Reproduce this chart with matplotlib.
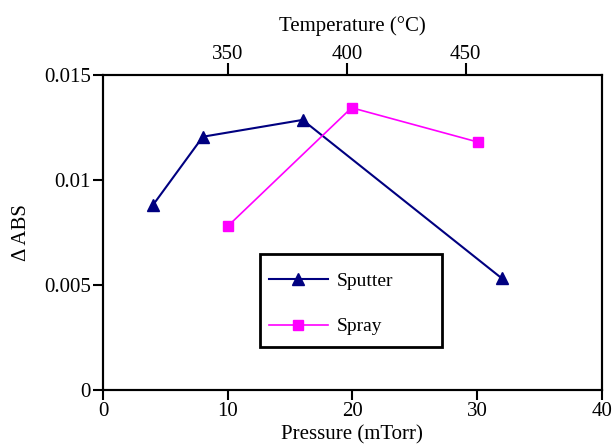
import matplotlib.pyplot as plt
from matplotlib.patches import Rectangle

plt.rcParams['font.family'] = ['Liberation Serif', 'DejaVu Serif']

# Sputter: plotted against pressure (bottom axis)
sputter_p = [4, 8, 16, 32]
sputter_abs = [0.0088, 0.01205, 0.01285, 0.0053]

# Spray: plotted against temperature (top axis)
spray_t = [350, 402, 455]
spray_abs = [0.0078, 0.01343, 0.0118]

yticks = [0, 0.005, 0.01, 0.015]
ytick_labels = ['0', '0.005', '0.01', '0.015']

fig = plt.figure(figsize=(6.14, 4.45), dpi=100)
ax = fig.add_axes([0.168, 0.124, 0.812, 0.708])
ax2 = ax.twiny()

l1, = ax.plot(sputter_p, sputter_abs, color='#000080', marker='^', markersize=8.5,
              linewidth=1.5, label='Sputter')
l2, = ax2.plot(spray_t, spray_abs, color='#ff00ff', marker='s', markersize=7,
               linewidth=1.2, label='Spray')

ax.set_xlim(0, 40)
ax.set_ylim(0, 0.015)
ax.set_xticks([0, 10, 20, 30, 40])
ax.set_yticks(yticks)
ax.set_yticklabels(ytick_labels)
ax2.set_xlim(297.5, 507.2)
ax2.set_xticks([350, 400, 450])

ax.set_xlabel('Pressure (mTorr)', fontsize=15, labelpad=3)
ax.set_ylabel('Δ ABS', fontsize=15, labelpad=9)
ax2.set_xlabel('Temperature (°C)', fontsize=15, labelpad=10)

for a in (ax, ax2):
    a.tick_params(direction='out', length=7, width=1.5, labelsize=15, pad=2)
    for s in a.spines.values():
        s.set_linewidth(1.5)
ax2.tick_params(length=9, pad=-1)

# legend box drawn separately so it can be wider than its contents
ax.add_patch(Rectangle((0.3146, 0.1365), 0.3647, 0.2952, transform=ax.transAxes,
                       facecolor='white', edgecolor='black', linewidth=2, zorder=4))
leg = ax.legend(handles=[l1, l2], loc='upper left', bbox_to_anchor=(0.333, 0.372),
                fontsize=14, frameon=False, borderpad=0, labelspacing=1.42,
                handlelength=3.0, handletextpad=0.45, borderaxespad=0)
leg.set_zorder(5)

fig.savefig('out.png', dpi=100)
